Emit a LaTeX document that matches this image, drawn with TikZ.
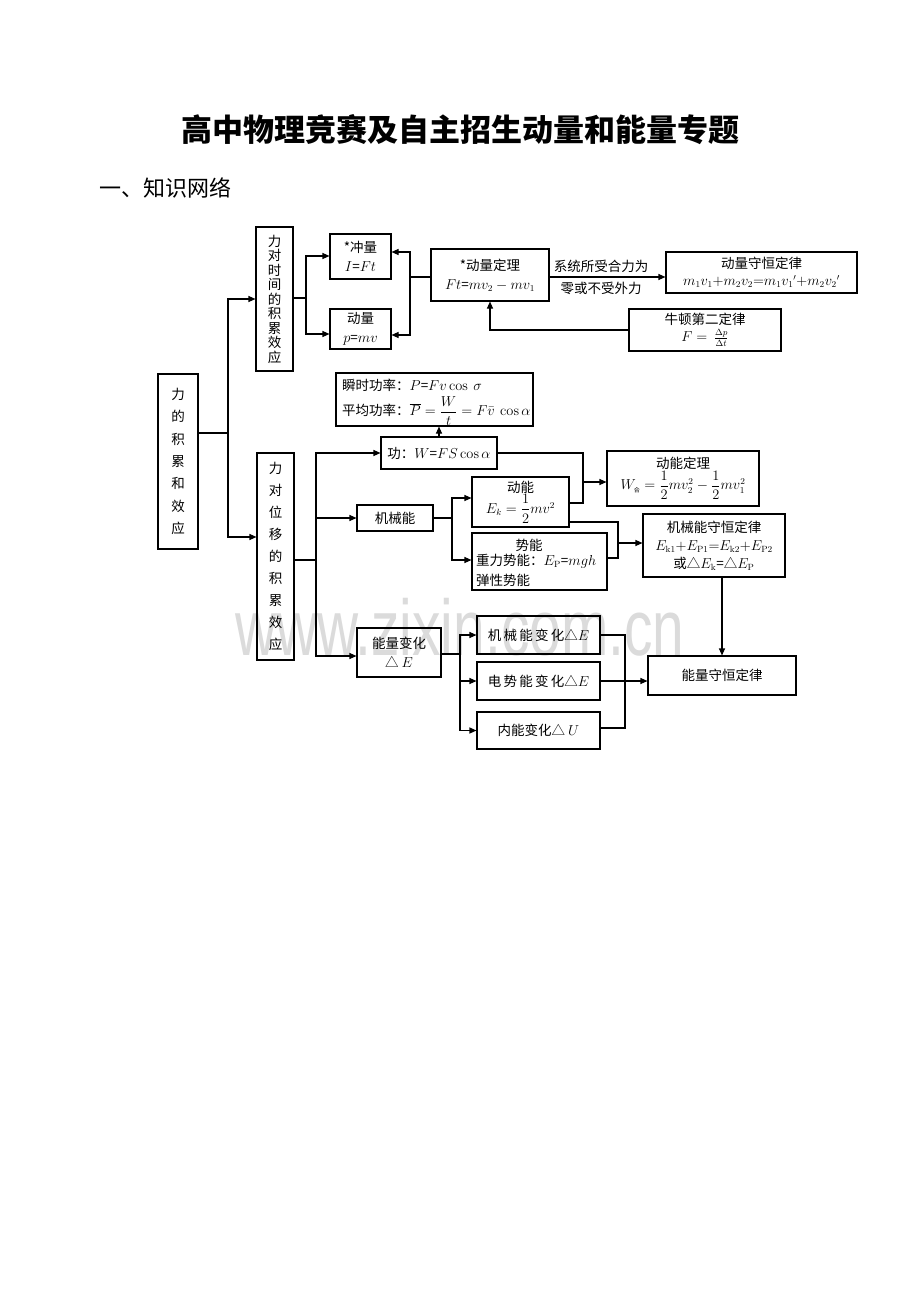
\documentclass[tikz,border=0pt]{standalone}
\usepackage{amsmath}
\usepackage[no-math]{fontspec}
\setmainfont{Noto Sans CJK SC}
\newfontfamily\wmfont{Liberation Sans}
\usetikzlibrary{arrows.meta}
\tikzset{
  bx/.style={draw, line width=1.1pt, inner sep=0pt, align=center,
             font=\fontsize{13.5}{19}\selectfont},
  txt/.style={inner sep=0pt, font=\fontsize{13.5}{19}\selectfont},
  ln/.style={line width=1.1pt},
  arr/.style={line width=1.1pt, -{Triangle[length=7pt,width=6pt]}},
}
\begin{document}
\begin{tikzpicture}[x=1pt,y=-1pt]
\useasboundingbox (0,0) rectangle (920,1300);
\fill[white] (0,0) rectangle (920,1300);

% watermark
\node[anchor=base, text=black!14, inner sep=0pt, xscale=0.72,
      font=\wmfont\fontsize{79}{79}\selectfont] (wm) at (460,655) {www.zixin.com.cn};

% title
\node[inner sep=0pt, font=\fontsize{31}{31}\selectfont\bfseries] (title) at (460,130)
  {高中物理竞赛及自主招生动量和能量专题};
\node[anchor=west, inner sep=0pt, font=\fontsize{22}{22}\selectfont] (sub) at (99,188)
  {一、知识网络};

% boxes
\node[bx, minimum width=40pt, minimum height=175pt, font=\fontsize{13.5}{22.3}\selectfont]
  (A) at (178,461.5) {力\\的\\积\\累\\和\\效\\应};
\node[bx, minimum width=37pt, minimum height=144pt, font=\fontsize{13.5}{14.5}\selectfont]
  (B) at (274.5,299) {力\\对\\时\\间\\的\\积\\累\\效\\应};
\node[bx, minimum width=37pt, minimum height=207pt, font=\fontsize{13.5}{22.1}\selectfont]
  (C) at (275.5,556.5) {力\\对\\位\\移\\的\\积\\累\\效\\应};

\node[bx, minimum width=61pt, minimum height=45pt] (D) at (360.5,256.5) {*冲量\\$I$=$Ft$};
\node[bx, minimum width=61pt, minimum height=40pt] (E) at (360.5,329) {动量\\$p$=$mv$};
\node[bx, minimum width=118pt, minimum height=52pt] (F) at (490,275) {*动量定理\\$Ft$=$mv_2-mv_1$};
\node[bx, minimum width=191pt, minimum height=41pt, font=\fontsize{13.5}{17}\selectfont]
  (G) at (761.5,272.5) {动量守恒定律\\$m_1v_1{+}m_2v_2{=}m_1v_1{}'{+}m_2v_2{}'$};
\node[bx, minimum width=152pt, minimum height=42pt, font=\fontsize{13.5}{17}\selectfont]
  (H) at (705,330) {牛顿第二定律\\$F=\,\frac{\Delta p}{\Delta t}$};

\node[bx, minimum width=197pt, minimum height=53pt] (I) at (434.5,399.5) {};
\node[txt, anchor=west] (I1) at (342,385) {瞬时功率：$P$=$Fv\cos\ \sigma$};
\node[txt, anchor=west] (I2) at (342,411) {平均功率：$\overline{P}=\dfrac{W}{t}=F\bar{v}\ \cos\alpha$};

\node[bx, minimum width=116pt, minimum height=32pt] (J) at (439,453) {功：$W$=$FS\cos\alpha$};
\node[bx, minimum width=76pt, minimum height=26pt] (K) at (395,518) {机械能};
\node[bx, minimum width=97pt, minimum height=50pt, font=\fontsize{13.5}{16}\selectfont]
  (L) at (520.5,502) {动能\\$E_k=\dfrac{1}{2}mv^2$};

\node[bx, minimum width=135pt, minimum height=57pt] (M) at (539.5,561.5) {};
\node[txt] (M1) at (529,545) {势能};
\node[txt, anchor=west] (M2) at (476,561) {重力势能：$E_\mathrm{P}$=$mgh$};
\node[txt, anchor=west] (M3) at (476,580) {弹性势能};

\node[bx, minimum width=152pt, minimum height=55pt, font=\fontsize{13.5}{17}\selectfont]
  (N) at (683,478.5) {动能定理\\$W_{\hbox{\fontsize{6}{6}\selectfont 合}}=\dfrac{1}{2}mv_2^2-\dfrac{1}{2}mv_1^2$};
\node[bx, minimum width=142pt, minimum height=63pt, font=\fontsize{13.5}{18}\selectfont]
  (O) at (714,545.5) {机械能守恒定律\\$E_{\mathrm{k}1}{+}E_{\mathrm{P}1}{=}E_{\mathrm{k}2}{+}E_{\mathrm{P}2}$\\或△$E_\mathrm{k}$=△$E_\mathrm{P}$};

\node[bx, minimum width=84pt, minimum height=49pt] (P) at (399,652.5) {能量变化\\△ $E$};
\node[bx, minimum width=123pt, minimum height=38pt] (Q) at (538.5,635) {机\,械\,能\,变\,化△$E$};
\node[bx, minimum width=123pt, minimum height=38pt] (R) at (538.5,681) {电\,势\,能\,变\,化△$E$};
\node[bx, minimum width=123pt, minimum height=37pt] (S) at (538.5,730.5) {内能变化△ $U$};
\node[bx, minimum width=148pt, minimum height=39pt] (T) at (722,675.5) {能量守恒定律};

% connectors: top part
\coordinate (a1) at (228,433);
\draw[ln] (A.east |- a1) -- (a1);
\draw[arr] (a1) |- (B.west);
\draw[arr] (a1) |- (C.west |- 0,537);

\coordinate (b1) at (306,298);
\draw[ln] (B.east |- b1) -- (b1);
\draw[arr] (b1) |- (D.west |- 0,256);
\draw[arr] (b1) |- (E.west |- 0,334);

\coordinate (f1) at (410,277);
\draw[ln] (F.west |- f1) -- (f1);
\draw[arr] (f1) |- (D.east |- 0,252);
\draw[arr] (f1) |- (E.east |- 0,335);

\draw[arr] (F.east |- 0,277) -- (G.west |- 0,277);
\node[txt] (g1) at (601,266) {系统所受合力为};
\node[txt] (g2) at (601,288) {零或不受外力};

\draw[arr] (H.west) -| (F.south);

% connectors: work / energy
\coordinate (c1) at (316,560);
\draw[ln] (C.east |- c1) -- (c1);
\draw[arr] (c1) |- (J.west);
\draw[arr] (c1) |- (K.west);
\draw[arr] (c1) |- (P.west |- 0,656);

\draw[arr] (J.north) -- (J.north |- I.south);

\coordinate (n1) at (583,482);
\draw[ln] (J.east) -| (n1) |- (L.east |- 0,503);
\draw[arr] (n1) -- (N.west |- n1);

\coordinate (k1) at (452,518);
\draw[ln] (K.east) -- (k1);
\draw[arr] (k1) |- (L.west |- 0,498);
\draw[arr] (k1) |- (M.west |- 0,560);

\coordinate (o1) at (618,543);
\draw[ln] (L.east |- 0,522) -| (o1) |- (M.east |- 0,558);
\draw[arr] (o1) -- (O.west |- o1);

\draw[arr] (O.south -| T.north) -- (T.north);

\coordinate (p1) at (460,654);
\draw[ln] (P.east |- p1) -- (p1);
\draw[arr] (p1) |- (Q.west);
\draw[arr] (p1) |- (R.west);
\draw[arr] (p1) |- (S.west);

\coordinate (t1) at (625,681);
\draw[ln] (Q.east) -| (t1) |- (S.east |- 0,728);
\draw[arr] (R.east) -- (T.west |- R.east);
\end{tikzpicture}
\end{document}
